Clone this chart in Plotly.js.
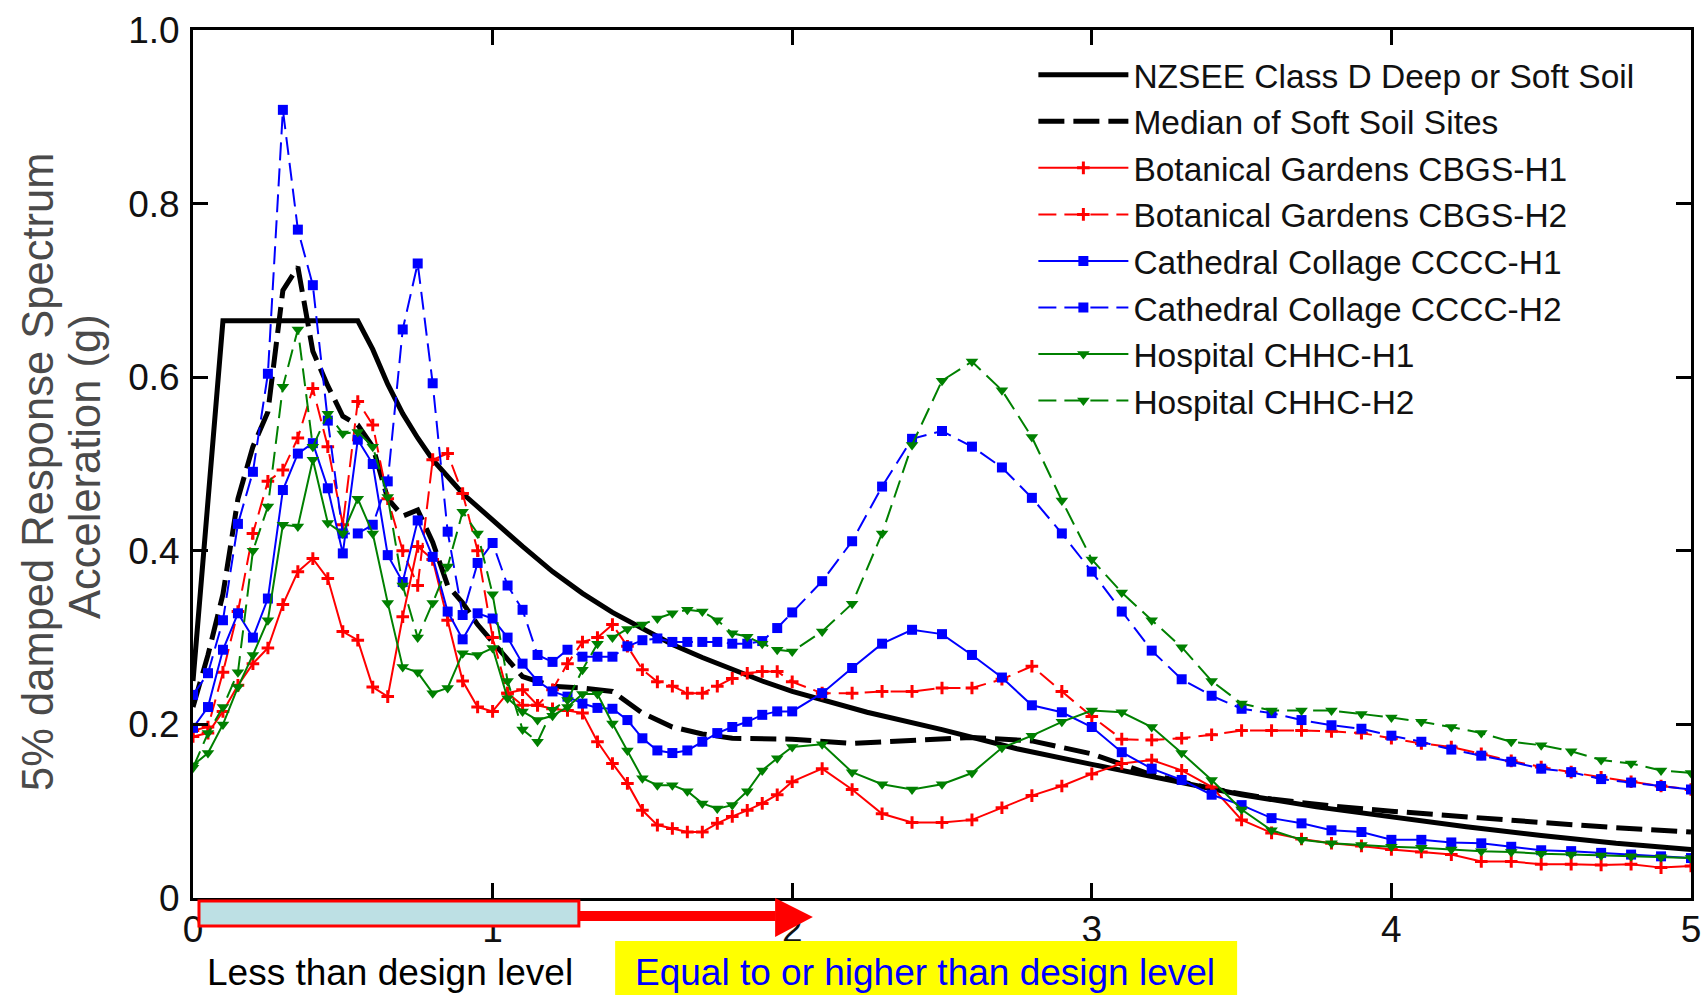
<!DOCTYPE html>
<html>
<head>
<meta charset="utf-8">
<script src="https://cdn.plot.ly/plotly-3.0.1.min.js"></script>
<style>
html,body{margin:0;padding:0;background:#ffffff;}
#chart{width:1704px;height:995px;}
</style>
</head>
<body>
<div id="chart"></div>
<script>
// ---- Data (period in s, spectral acceleration in g) ----
const periods = [0,0.05,0.1,0.15,0.2,0.25,0.3,0.35,0.4,0.45,0.5,0.55,0.6,0.65,0.7,0.75,0.8,0.85,0.9,0.95,1,1.05,1.1,1.15,1.2,1.25,1.3,1.35,1.4,1.45,1.5,1.55,1.6,1.65,1.7,1.75,1.8,1.85,1.9,1.95,2,2.1,2.2,2.3,2.4,2.5,2.6,2.7,2.8,2.9,3,3.1,3.2,3.3,3.4,3.5,3.6,3.7,3.8,3.9,4,4.1,4.2,4.3,4.4,4.5,4.6,4.7,4.8,4.9,5];

const nzseeT  = [0,0.1,0.55,0.6,0.65,0.7,0.75,0.8,0.9,1,1.1,1.2,1.3,1.4,1.5,1.6,1.7,1.8,1.9,2,2.25,2.5,2.75,3,3.25,3.5,3.75,4,4.25,4.5,4.75,5];
const nzseeSa = [0.25,0.665,0.665,0.632,0.592,0.558,0.530,0.505,0.466,0.435,0.405,0.376,0.351,0.329,0.310,0.292,0.277,0.263,0.250,0.238,0.214,0.194,0.172,0.154,0.137,0.119,0.105,0.093,0.082,0.072,0.063,0.056];

const medianT  = [0,0.05,0.1,0.15,0.2,0.25,0.3,0.35,0.4,0.45,0.5,0.55,0.6,0.65,0.7,0.75,0.8,0.85,0.9,0.95,1,1.1,1.2,1.3,1.4,1.5,1.6,1.7,1.8,1.9,2,2.2,2.4,2.6,2.8,3,3.2,3.4,3.6,3.8,4,4.25,4.5,4.75,5];
const medianSa = [0.22,0.28,0.35,0.46,0.52,0.56,0.70,0.727,0.63,0.59,0.555,0.545,0.52,0.46,0.44,0.447,0.41,0.36,0.34,0.315,0.295,0.255,0.244,0.242,0.238,0.213,0.197,0.189,0.184,0.184,0.183,0.178,0.182,0.185,0.181,0.166,0.142,0.126,0.114,0.106,0.100,0.093,0.087,0.081,0.076];

const cbgsH1 = [0.186,0.190,0.215,0.245,0.270,0.288,0.338,0.376,0.391,0.368,0.307,0.297,0.243,0.232,0.324,0.405,0.390,0.320,0.250,0.220,0.215,0.236,0.240,0.222,0.218,0.216,0.213,0.180,0.155,0.132,0.101,0.084,0.080,0.076,0.076,0.086,0.094,0.101,0.109,0.119,0.134,
  0.149,0.125,0.097,0.087,0.087,0.090,0.104,0.118,0.129,0.143,0.155,0.159,0.147,0.128,0.090,0.075,0.068,0.063,0.060,0.056,0.053,0.050,0.042,0.042,0.039,0.039,0.038,0.039,0.035,0.037];
const cbgsH2 = [0.193,0.197,0.260,0.330,0.420,0.480,0.493,0.530,0.587,0.520,0.430,0.572,0.545,0.460,0.400,0.360,0.505,0.512,0.466,0.400,0.300,0.236,0.222,0.222,0.240,0.270,0.295,0.300,0.315,0.290,0.263,0.249,0.244,0.236,0.236,0.244,0.253,0.259,0.261,0.261,0.249,
  0.236,0.236,0.238,0.238,0.242,0.242,0.252,0.267,0.238,0.209,0.183,0.182,0.184,0.188,0.193,0.193,0.193,0.192,0.190,0.184,0.178,0.174,0.166,0.158,0.151,0.145,0.139,0.134,0.129,0.125];
const ccccH1 = [0.196,0.220,0.286,0.328,0.300,0.345,0.470,0.512,0.524,0.472,0.397,0.528,0.500,0.395,0.364,0.435,0.393,0.330,0.298,0.328,0.322,0.300,0.270,0.250,0.238,0.232,0.224,0.219,0.218,0.205,0.184,0.170,0.167,0.170,0.180,0.190,0.197,0.203,0.211,0.215,0.215,
  0.236,0.265,0.293,0.309,0.304,0.280,0.254,0.222,0.214,0.197,0.168,0.149,0.136,0.119,0.107,0.092,0.086,0.078,0.076,0.067,0.067,0.064,0.063,0.059,0.055,0.054,0.052,0.050,0.048,0.046];
const ccccH2 = [0.234,0.259,0.320,0.431,0.491,0.604,0.908,0.770,0.706,0.550,0.420,0.420,0.430,0.480,0.655,0.731,0.593,0.422,0.326,0.386,0.409,0.360,0.332,0.280,0.272,0.286,0.278,0.278,0.278,0.290,0.297,0.299,0.295,0.295,0.295,0.295,0.293,0.293,0.296,0.311,0.329,
  0.365,0.411,0.474,0.529,0.538,0.520,0.496,0.461,0.420,0.376,0.330,0.285,0.252,0.233,0.218,0.213,0.205,0.199,0.195,0.187,0.180,0.171,0.164,0.157,0.149,0.145,0.137,0.133,0.129,0.125];
const chhcH1 = [0.153,0.167,0.200,0.243,0.280,0.320,0.430,0.428,0.505,0.432,0.420,0.460,0.420,0.340,0.266,0.260,0.236,0.242,0.282,0.280,0.288,0.230,0.215,0.205,0.210,0.220,0.235,0.235,0.201,0.170,0.138,0.130,0.130,0.123,0.109,0.103,0.107,0.123,0.147,0.161,0.174,
  0.177,0.145,0.131,0.125,0.131,0.144,0.173,0.187,0.203,0.216,0.214,0.197,0.167,0.136,0.102,0.078,0.067,0.063,0.061,0.059,0.058,0.056,0.054,0.053,0.051,0.050,0.049,0.048,0.047,0.046];
const chhcH2 = [0.150,0.190,0.220,0.260,0.400,0.451,0.589,0.655,0.520,0.558,0.535,0.537,0.520,0.462,0.360,0.300,0.340,0.382,0.445,0.420,0.350,0.250,0.194,0.180,0.217,0.228,0.263,0.293,0.300,0.310,0.315,0.322,0.328,0.332,0.330,0.320,0.305,0.301,0.293,0.286,0.284,
  0.307,0.339,0.420,0.522,0.596,0.618,0.585,0.531,0.458,0.390,0.352,0.320,0.289,0.250,0.224,0.216,0.216,0.216,0.212,0.208,0.203,0.197,0.190,0.180,0.176,0.169,0.159,0.155,0.147,0.144];

const seriesNames = ['NZSEE Class D Deep or Soft Soil','Median of Soft Soil Sites','Botanical Gardens CBGS-H1','Botanical Gardens CBGS-H2','Cathedral Collage CCCC-H1','Cathedral Collage CCCC-H2','Hospital CHHC-H1','Hospital CHHC-H2'];
const xTickVals = [0,1,2,3,4,5];
const xTickText = ['0','1','2','3','4','5'];
const yTickVals = [0,0.2,0.4,0.6,0.8,1.0];
const yTickText = ['0','0.2','0.4','0.6','0.8','1.0'];
const yTitleLines = ['5% damped Response Spectrum','Acceleration (g)'];
const noteLess = 'Less than design level';
const noteMore = 'Equal to or higher than design level';

// ---- Styling ----
const FONT = '"Liberation Sans", Arial, sans-serif';
const RED = '#ff0000', BLUE = '#0000ff', GREEN = '#008000';
const H2DASH = '18px,8px';

function rec(name, y, color, symbol, dashed) {
  const m = {symbol: symbol, color: color};
  if (symbol === 'cross-thin') { m.size = 9; m.line = {color: color, width: 3}; }
  else if (symbol === 'square') { m.size = 10; }
  else { m.size = 11; }
  return {type:'scatter', mode:'lines+markers', name:name, x:periods, y:y,
          line:{color:color, width:2, dash: dashed ? H2DASH : 'solid'}, marker:m};
}

const traces = [
  {type:'scatter', mode:'lines', name:seriesNames[0], x:nzseeT, y:nzseeSa, line:{color:'#000000', width:5}},
  {type:'scatter', mode:'lines', name:seriesNames[1], x:medianT, y:medianSa, line:{color:'#000000', width:5, dash:'26px,9px'}},
  rec(seriesNames[2], cbgsH1, RED, 'cross-thin', false),
  rec(seriesNames[3], cbgsH2, RED, 'cross-thin', true),
  rec(seriesNames[4], ccccH1, BLUE, 'square', false),
  rec(seriesNames[5], ccccH2, BLUE, 'square', true),
  rec(seriesNames[6], chhcH1, GREEN, 'triangle-down', false),
  rec(seriesNames[7], chhcH2, GREEN, 'triangle-down', true)
];

const axisCommon = {
  showline:true, linewidth:3, linecolor:'#000', mirror:'ticks',
  ticks:'inside', ticklen:15, tickwidth:3, tickcolor:'#000',
  showgrid:false, zeroline:false, fixedrange:true,
  tickfont:{family:FONT, size:37, color:'#111'}
};

const layout = {
  width:1704, height:995,
  margin:{l:193, r:13, t:30, b:97},
  paper_bgcolor:'#ffffff', plot_bgcolor:'#ffffff',
  font:{family:FONT, color:'#111'},
  showlegend:true,
  legend:{x:0.561, y:0.981, xanchor:'left', yanchor:'top', bgcolor:'#ffffff', borderwidth:0,
          itemwidth:90, font:{family:FONT, size:33.5, color:'#111'}, tracegroupgap:0},
  xaxis:Object.assign({}, axisCommon, {range:[0,5], tickmode:'array', tickvals:xTickVals, ticktext:xTickText, ticklabelstandoff:-3}),
  yaxis:Object.assign({}, axisCommon, {range:[0,1], tickmode:'array', tickvals:yTickVals, ticktext:yTickText, ticklabelstandoff:3}),
  shapes:[
    {type:'rect', xref:'x', yref:'paper', x0:1.409, x1:3.485, y0:-0.0495, y1:-0.125, fillcolor:'#ffff00', line:{width:0}, layer:'above'},
    {type:'rect', xref:'x', yref:'paper', x0:1.288, x1:1.945, y0:-0.0150, y1:-0.0265, fillcolor:RED, line:{width:0}, layer:'above'},
    {type:'path', xref:'x', yref:'paper', path:'M1.943,0 L2.069,-0.0219 L1.943,-0.0449 Z', fillcolor:RED, line:{width:0}, layer:'above'},
    {type:'rect', xref:'x', yref:'paper', x0:0.02, x1:1.288, y0:-0.0035, y1:-0.0323, fillcolor:'#bde0e4', line:{color:RED, width:3}, layer:'above'}
  ],
  annotations:[
    {xref:'paper', yref:'paper', x:-0.1035, y:0.4908, xanchor:'center', yanchor:'middle', textangle:-90, showarrow:false,
     text:yTitleLines[0], font:{family:FONT, size:43.5, color:'#4a4a4a'}},
    {xref:'paper', yref:'paper', x:-0.0721, y:0.4977, xanchor:'center', yanchor:'middle', textangle:-90, showarrow:false,
     text:yTitleLines[1], font:{family:FONT, size:43.5, color:'#4a4a4a'}},
    {xref:'x', yref:'paper', x:0.656, y:-0.0864, xanchor:'center', yanchor:'middle', showarrow:false,
     text:noteLess, font:{family:FONT, size:37, color:'#000'}},
    {xref:'x', yref:'paper', x:2.443, y:-0.0864, xanchor:'center', yanchor:'middle', showarrow:false,
     text:noteMore, font:{family:FONT, size:37, color:'#0000ff'}}
  ]
};

Plotly.newPlot('chart', traces, layout, {staticPlot:true, displayModeBar:false});
</script>
</body>
</html>
